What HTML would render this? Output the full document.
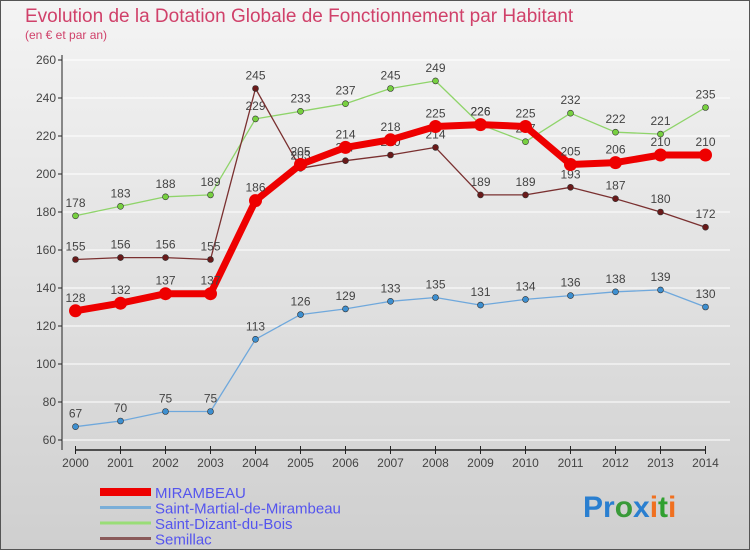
<!DOCTYPE html>
<html><head><meta charset="utf-8"><style>
body{margin:0;}
#c{width:750px;height:550px;position:relative;overflow:hidden;background:linear-gradient(#f4f4f4,#cfcfcf);font-family:"Liberation Sans",sans-serif;}
</style></head><body>
<div id="c">
<svg id="s" width="750" height="550" style="position:absolute;left:0;top:0">
<rect x="0.5" y="0.5" width="749" height="549" fill="none" stroke="#555"/>
<text x="25" y="22" font-size="19" fill="#d0416a">Evolution de la Dotation Globale de Fonctionnement par Habitant</text>
<text x="25" y="39" font-size="12" fill="#d0416a">(en € et par an)</text>
<g id="grid"></g><g id="axes"></g><g id="series"></g><g id="legend"></g>
<text x="583" y="517" font-size="30" font-weight="bold"><tspan fill="#2a7fd0">Pr</tspan><tspan fill="#3a9a3a">o</tspan><tspan fill="#2a7fd0">x</tspan><tspan fill="#f07020">i</tspan><tspan fill="#30a030">t</tspan><tspan fill="#f07020">i</tspan></text>
</svg>
</div>
<script>
const years=[2000,2001,2002,2003,2004,2005,2006,2007,2008,2009,2010,2011,2012,2013,2014];
const mirambeau=[128,132,137,137,186,205,214,218,225,226,225,205,206,210,210];
const saintMartial=[67,70,75,75,113,126,129,133,135,131,134,136,138,139,130];
const saintDizant=[178,183,188,189,229,233,237,245,249,226,217,232,222,221,235];
const semillac=[155,156,156,155,245,203,207,210,214,189,189,193,187,180,172];
const yTicks=[60,80,100,120,140,160,180,200,220,240,260];
const NS="http://www.w3.org/2000/svg";
const X=i=>75.5+i*(705.5-75.5)/(years.length-1);
const Y=v=>440-(v-60)*1.9;
function mk(t,a,p){const e=document.createElementNS(NS,t);for(const k in a)e.setAttribute(k,a[k]);p.appendChild(e);return e;}
const grid=document.getElementById('grid'),axes=document.getElementById('axes'),ser=document.getElementById('series'),leg=document.getElementById('legend');
yTicks.forEach(v=>{
 const l=mk('line',{x1:62,x2:730,y1:Y(v),y2:Y(v),stroke:'#fff','stroke-width':1},grid);
 
 
 const t=mk('text',{x:56,y:Y(v)+4,'font-size':12,fill:'#444','text-anchor':'end'},axes);t.textContent=v;
 
 
 mk('line',{x1:58,x2:62,y1:Y(v),y2:Y(v),stroke:'#222'},axes);
});
const ya=mk('line',{x1:62,x2:62,y1:55,y2:450,stroke:'#222'},axes);


const xa=mk('line',{x1:75,x2:706,y1:450,y2:450,stroke:'#222','stroke-width':1.5},axes);


years.forEach((y,i)=>{
 mk('line',{x1:X(i),x2:X(i),y1:446,y2:454,stroke:'#222'},axes);
 const t=mk('text',{x:X(i),y:467,'font-size':12,fill:'#444','text-anchor':'middle'},axes);t.textContent=y;
 
 
});
function series(vals,color,w,r,dot,name){
 const g=mk('g',{},ser);
 
 
 mk('polyline',{points:vals.map((v,i)=>X(i)+','+Y(v)).join(' '),fill:'none',stroke:color,'stroke-width':w,'stroke-linejoin':'round'},g);
 vals.forEach((v,i)=>{
  const c=mk('circle',{cx:X(i),cy:Y(v),r:r,fill:dot,stroke:'#333','stroke-width':r>5?0:0.6},g);
  
  
  const t=mk('text',{x:X(i),y:Y(v)-9,'font-size':12,fill:'#444','text-anchor':'middle'},g);t.textContent=v;
  
  
 });
}
series(saintMartial,'#6fa8dc',1.3,3,'#3d8fd0','saint-martial-series');
series(saintDizant,'#8fd46a',1.3,3,'#77d040','saint-dizant-series');
series(semillac,'#7a3030',1.3,3,'#6a1a1a','semillac-series');
series(mirambeau,'#ee0000',7,6.5,'#ee0000','mirambeau-series');
const legItems=[['MIRAMBEAU','#ee0000',8],['Saint-Martial-de-Mirambeau','#7aaed8',3],['Saint-Dizant-du-Bois','#99dd77',3],['Semillac','#8a5a5a',3]];
legItems.forEach((it,i)=>{
 const y=492+i*15.5;
 const g=mk('g',{},leg);
 
 
 mk('line',{x1:100,x2:151,y1:y,y2:y,stroke:it[1],'stroke-width':it[2]},g);
 const t=mk('text',{x:155,y:y+6,'font-size':15,fill:'#5555ee'},g);t.textContent=it[0];
});
</script>
</body></html>
